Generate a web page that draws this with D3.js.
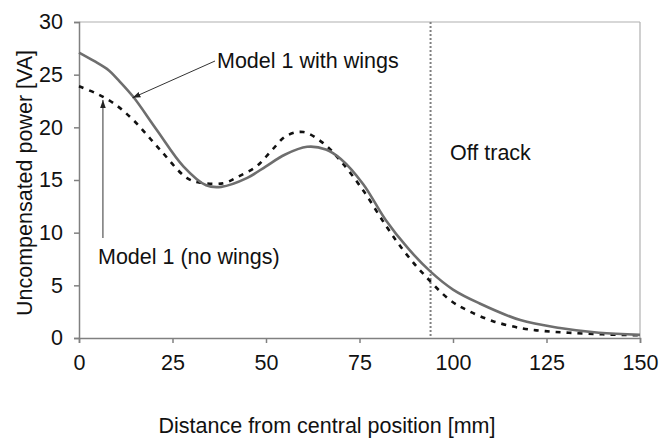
<!DOCTYPE html>
<html>
<head>
<meta charset="utf-8">
<script src="https://cdn.jsdelivr.net/npm/d3@7"></script>
<style>
  body { margin: 0; background: #fff; }
  text { font-family: "Liberation Sans", Arial, sans-serif; fill: #111; }
</style>
</head>
<body>
<svg id="chart" width="668" height="440"></svg>
<script>
// distance [mm] vs uncompensated power [VA]
const withWingsX = [0, 4, 8, 10.5, 14.5, 20.8, 27.9, 34, 38, 45, 50, 55, 61, 66, 70, 76, 82, 88, 94, 100, 107, 118, 128.6, 139, 150];
const withWingsY = [27.1, 26.3, 25.4, 24.5, 22.9, 19.75, 16.3, 14.5, 14.35, 15.2, 16.3, 17.4, 18.15, 17.9, 17.0, 14.6, 11.2, 8.5, 6.3, 4.6, 3.3, 1.7, 0.95, 0.5, 0.3];
const noWingsX = [0, 4.7, 9.2, 14.5, 21.6, 28.8, 32.4, 38.6, 43, 47.5, 51.5, 55.5, 60, 65.3, 70, 76, 82, 87, 92.3, 99.2, 104, 110.7, 118.7, 124.6, 131, 140, 150];
const noWingsY = [23.9, 23.2, 22.3, 20.7, 17.9, 15.2, 14.75, 14.7, 15.4, 16.3, 17.8, 19.2, 19.55, 18.5, 16.8, 14.0, 10.7, 8.2, 6.0, 3.6, 2.6, 1.6, 0.9, 0.65, 0.5, 0.35, 0.25];
const xTicks = [0, 25, 50, 75, 100, 125, 150];
const yTicks = [0, 5, 10, 15, 20, 25, 30];
const offTrackX = 94;

const svg = d3.select('#chart');
const margin = {left: 79, right: 28, top: 22, bottom: 102};
const W = 668, H = 440;
const fontSize = 21.5;

const x = d3.scaleLinear().domain([0, 150]).range([margin.left, W - margin.right]);
const y = d3.scaleLinear().domain([0, 30]).range([H - margin.bottom, margin.top]);

const axisColor = '#808080';

// plot frame (top and right)
svg.append('line')
  .attr('x1', x(0)).attr('x2', x(150)).attr('y1', y(30)).attr('y2', y(30))
  .attr('stroke', '#b0b0b0').attr('stroke-width', 1.2);
svg.append('line')
  .attr('x1', x(150)).attr('x2', x(150)).attr('y1', y(30)).attr('y2', y(0))
  .attr('stroke', '#b0b0b0').attr('stroke-width', 1.2);

// axes
const xAxis = svg.append('g')
  .attr('transform', `translate(0,${y(0)})`)
  .call(d3.axisBottom(x).tickValues(xTicks).tickSize(5).tickPadding(12));
const yAxis = svg.append('g')
  .attr('transform', `translate(${x(0)},0)`)
  .call(d3.axisLeft(y).tickValues(yTicks).tickSize(5).tickPadding(11));

[xAxis, yAxis].forEach(function (ax) {
  ax.select('.domain').attr('stroke', axisColor).attr('stroke-width', 1.5);
  ax.selectAll('.tick line').attr('stroke', axisColor).attr('stroke-width', 1.5);
  ax.selectAll('.tick text')
    .attr('font-size', fontSize)
    .attr('font-family', '"Liberation Sans", Arial, sans-serif')
    .attr('fill', '#111');
});

// off track boundary
svg.append('line')
  .attr('x1', x(offTrackX)).attr('x2', x(offTrackX))
  .attr('y1', y(30)).attr('y2', y(0))
  .attr('stroke', '#808080').attr('stroke-width', 2)
  .attr('stroke-dasharray', '2,2');

const line = d3.line()
  .x(d => x(d[0]))
  .y(d => y(d[1]))
  .curve(d3.curveCatmullRom.alpha(0.5));

svg.append('path')
  .datum(noWingsX.map((v, i) => [v, noWingsY[i]]))
  .attr('d', line)
  .attr('fill', 'none')
  .attr('stroke', '#111')
  .attr('stroke-width', 2.6)
  .attr('stroke-dasharray', '5,6');

svg.append('path')
  .datum(withWingsX.map((v, i) => [v, withWingsY[i]]))
  .attr('d', line)
  .attr('fill', 'none')
  .attr('stroke', '#6e6e6e')
  .attr('stroke-width', 2.6);

// arrow markers
svg.append('defs').append('marker')
  .attr('id', 'arrow')
  .attr('viewBox', '0 0 10 10')
  .attr('refX', 10).attr('refY', 5)
  .attr('markerWidth', 8).attr('markerHeight', 8)
  .attr('orient', 'auto')
  .append('path')
  .attr('d', 'M0,1.5L10,5L0,8.5Z')
  .attr('fill', '#222');

// annotation: with wings
svg.append('line')
  .attr('x1', 215).attr('y1', 61)
  .attr('x2', x(14.3)).attr('y2', y(22.8))
  .attr('stroke', '#333').attr('stroke-width', 1)
  .attr('marker-end', 'url(#arrow)');
svg.append('text')
  .attr('x', 217).attr('y', 68)
  .attr('font-size', fontSize)
  .text('Model 1 with wings');

// annotation: no wings
svg.append('line')
  .attr('x1', x(6.4)).attr('y1', 238)
  .attr('x2', x(6.4)).attr('y2', y(22.6))
  .attr('stroke', '#333').attr('stroke-width', 1)
  .attr('marker-end', 'url(#arrow)');
svg.append('text')
  .attr('x', 98).attr('y', 264)
  .attr('font-size', fontSize)
  .text('Model 1 (no wings)');

svg.append('text')
  .attr('x', 450).attr('y', 160)
  .attr('font-size', fontSize)
  .text('Off track');

// axis titles
svg.append('text')
  .attr('transform', `translate(24,${(y(0) + y(30)) / 2 + 3}) rotate(-90)`)
  .attr('text-anchor', 'middle')
  .attr('dy', '0.35em')
  .attr('font-size', fontSize)
  .text('Uncompensated power [VA]');

svg.append('text')
  .attr('x', 327)
  .attr('y', 433)
  .attr('text-anchor', 'middle')
  .attr('font-size', fontSize)
  .text('Distance from central position [mm]');
</script>
</body>
</html>
